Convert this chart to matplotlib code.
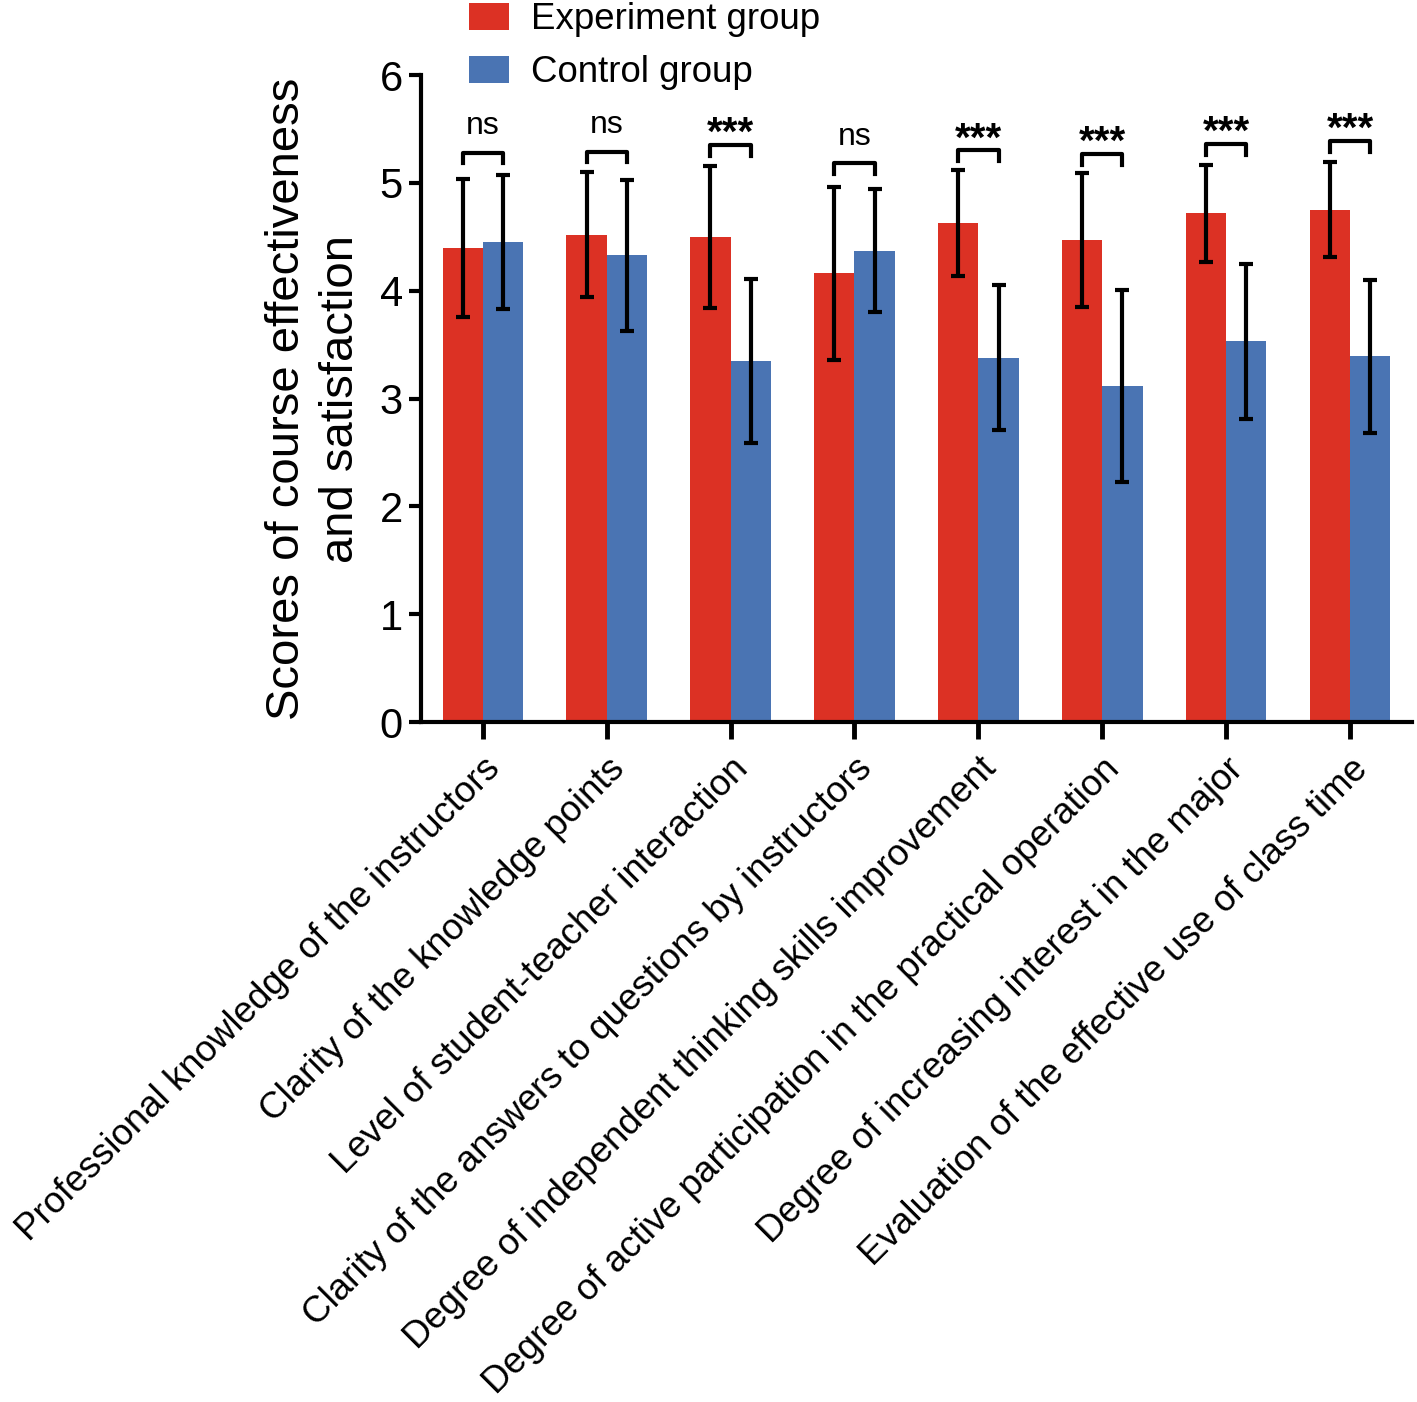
import numpy as np
import matplotlib.pyplot as plt

plt.rcParams['font.family'] = ['Liberation Sans', 'DejaVu Sans']

categories = [
    'Professional knowledge of the instructors',
    'Clarity of the knowledge points',
    'Level of student-teacher interaction',
    'Clarity of the answers to questions by instructors',
    'Degree of independent thinking skills improvement',
    'Degree of active participation in the practical operation',
    'Degree of increasing interest in the major',
    'Evaluation of the effective use of class time',
]
exp_mean = [4.40, 4.52, 4.50, 4.16, 4.63, 4.47, 4.72, 4.75]
exp_sd = [0.64, 0.58, 0.66, 0.80, 0.49, 0.62, 0.45, 0.44]
ctrl_mean = [4.45, 4.33, 3.35, 4.37, 3.38, 3.12, 3.53, 3.39]
ctrl_sd = [0.62, 0.70, 0.76, 0.57, 0.67, 0.89, 0.72, 0.71]
sig_labels = ['ns', 'ns', '***', 'ns', '***', '***', '***', '***']
bracket_y = [5.28, 5.29, 5.35, 5.18, 5.30, 5.27, 5.36, 5.39]

red = '#DC3124'
blue = '#4A74B3'

fig = plt.figure(figsize=(14.17, 14.02), dpi=100)
ax = fig.add_axes([0.297, 0.485, 0.6995, 0.4615])

x = np.arange(len(categories))
w = 0.325
err_kw = dict(ecolor='black', elinewidth=3, capsize=5, capthick=3)
ax.bar(x - w / 2, exp_mean, w, yerr=exp_sd, color=red, label='Experiment group',
       error_kw=err_kw)
ax.bar(x + w / 2, ctrl_mean, w, yerr=ctrl_sd, color=blue, label='Control group',
       error_kw=err_kw)

# significance brackets
for i in range(len(categories)):
    y = bracket_y[i]
    ax.plot([x[i] - w / 2, x[i] - w / 2, x[i] + w / 2, x[i] + w / 2],
            [y - 0.1, y, y, y - 0.1], color='black', lw=3, clip_on=False)
    if sig_labels[i] == 'ns':
        ax.text(x[i], y + 0.17, 'ns', ha='center', va='baseline', fontsize=23)
    else:
        ax.text(x[i], y + 0.0, '***', ha='center', va='baseline', fontsize=29,
                fontweight='bold')

ax.set_xlim(-0.5, 7.5)
ax.set_ylim(0, 6)
ax.set_yticks(range(7))
ax.set_xticks(x)
ax.set_xticklabels(categories, rotation=45, ha='right', rotation_mode='anchor',
                   fontsize=26.4)
ax.tick_params(axis='y', labelsize=30, width=3, length=9, pad=4)
ax.tick_params(axis='x', width=3.5, length=12, pad=9)
for s in ['top', 'right']:
    ax.spines[s].set_visible(False)
for s in ['left', 'bottom']:
    ax.spines[s].set_linewidth(3)

ax.set_ylabel('Scores of course effectiveness\nand satisfaction', fontsize=34,
              labelpad=12, linespacing=1.3)

fig.legend(loc='upper left', bbox_to_anchor=(0.3075, 1.022), frameon=False,
           fontsize=26.4, handlelength=1.09, handleheight=0.74, handletextpad=0.6,
           labelspacing=0.5)

fig.savefig('out.png', dpi=100)
